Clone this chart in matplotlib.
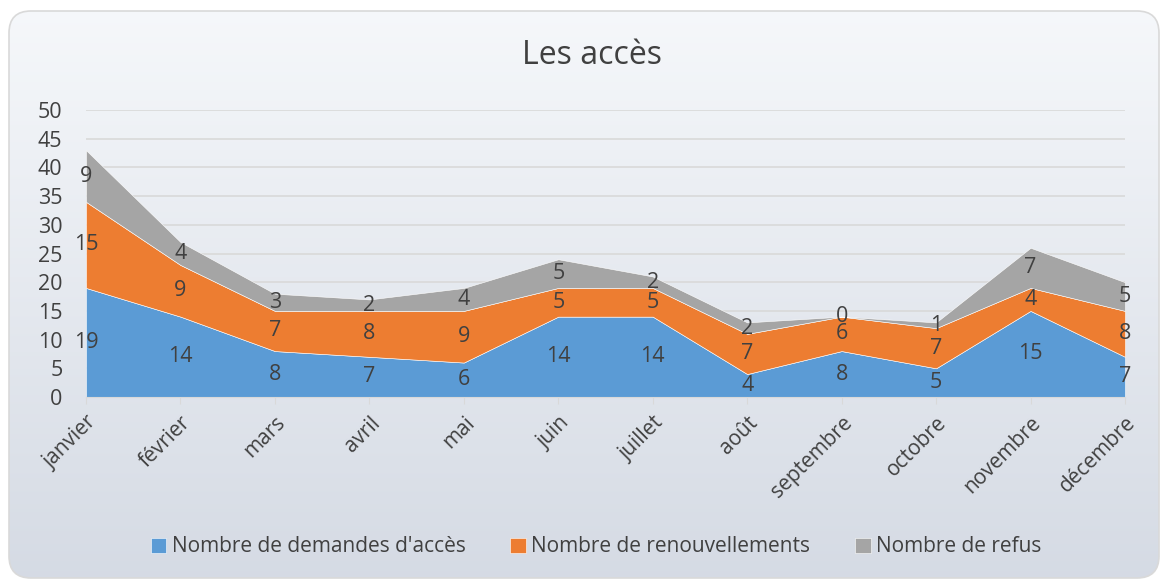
import numpy as np
import matplotlib.pyplot as plt
from matplotlib.patches import FancyBboxPatch

months = ["janvier", "février", "mars", "avril", "mai", "juin", "juillet",
          "août", "septembre", "octobre", "novembre", "décembre"]
demandes = [19, 14, 8, 7, 6, 14, 14, 4, 8, 5, 15, 7]
renouv = [15, 9, 7, 8, 9, 5, 5, 7, 6, 7, 4, 8]
refus = [9, 4, 3, 2, 4, 5, 2, 2, 0, 1, 7, 5]

series = [("Nombre de demandes d'accès", demandes, "#5b9bd5"),
          ("Nombre de renouvellements", renouv, "#ed7d31"),
          ("Nombre de refus", refus, "#a5a5a5")]

plt.rcParams['font.family'] = ['Open Sans', 'DejaVu Sans']
txt = "#404040"

W, H = 1162, 581
fig = plt.figure(figsize=(W / 100, H / 100), dpi=100)
fig.patch.set_facecolor("white")

# background panel with a vertical gradient and rounded corners
bg = fig.add_axes([0, 0, 1, 1], zorder=-10)
bg.set_xlim(0, W)
bg.set_ylim(0, H)
bg.axis("off")
box = FancyBboxPatch((9, 3), 1150, 567, boxstyle="round,pad=0,rounding_size=22",
                     facecolor="none", edgecolor="#d9d9d9", linewidth=1.2)
bg.add_patch(box)
grad = np.linspace(0, 1, 256).reshape(-1, 1)
top = np.array([0.965, 0.973, 0.984])
bot = np.array([0.835, 0.857, 0.894])
img = top + (bot - top) * grad[:, :, None]
im = bg.imshow(img, extent=[0, W, 0, H], aspect="auto", origin="upper")
im.set_clip_path(box)

ax = fig.add_axes([86 / W, 1 - 397 / H, (1125 - 86) / W, (397 - 110) / H])
ax.set_facecolor("none")
x = np.arange(len(months))
ys = [s[1] for s in series]
ax.stackplot(x, *ys, colors=[s[2] for s in series],
             labels=[s[0] for s in series], edgecolor="white", linewidth=0.4,
             zorder=2)

# data labels centered in each band
base = np.zeros(len(months))
for name, vals, col in series:
    vals = np.array(vals)
    mid = base + vals / 2
    for i in range(len(months)):
        ax.text(x[i], mid[i], str(vals[i]), ha="center", va="center",
                fontsize=15.5, color=txt, zorder=3)
    base = base + vals

ax.set_xlim(0, len(months) - 1)
ax.set_ylim(0, 50)
ax.set_yticks(range(0, 51, 5))
ax.grid(axis="y", color="#d9d9d9", linewidth=1.2, zorder=0)
ax.set_axisbelow(True)
for side in ["top", "right", "left"]:
    ax.spines[side].set_visible(False)
ax.spines["bottom"].set_color("#d9d9d9")
ax.tick_params(axis="y", length=0, labelsize=15.5, labelcolor=txt, pad=17)
ax.tick_params(axis="x", length=5, color="#d9d9d9", labelsize=15,
               labelcolor=txt, pad=6)
ax.set_xticks(x)
ax.set_xticklabels(months, rotation=45, ha="right", rotation_mode="anchor")

fig.text(592 / W, 1 - 55 / H, "Les accès", ha="center", va="center",
         fontsize=23, color=txt)

handles, labels = ax.get_legend_handles_labels()
fig.legend(handles, labels, loc="center", bbox_to_anchor=(596 / W, 1 - 547 / H),
           ncol=3, frameon=False, fontsize=15, labelcolor=txt,
           handlelength=0.75, handleheight=0.75, handletextpad=0.25,
           columnspacing=2.15)

fig.savefig("out.png", dpi=100, facecolor="white")
